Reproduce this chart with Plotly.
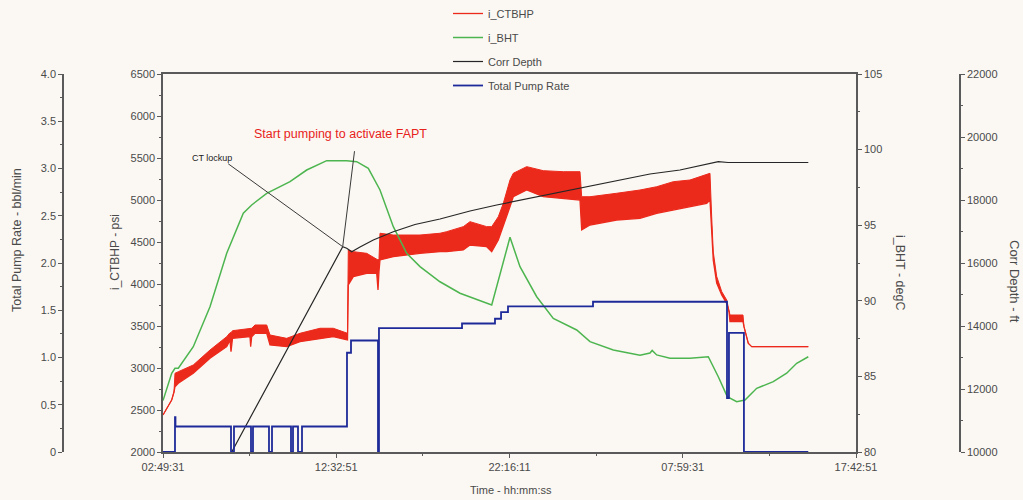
import pandas as pd
import plotly.graph_objects as go

# ---------------------------------------------------------------------------
# Time base: all series are stored as elapsed hours from the job start
# ---------------------------------------------------------------------------
T0 = pd.Timestamp("2000-01-01 02:49:31")
TICK_STEP_S = 35000  # 9:43:20 between labelled time ticks
time_tick_labels = ["02:49:31", "12:32:51", "22:16:11", "07:59:31", "17:42:51"]

# i_CTBHP (psi) - upper / lower envelope of the fast-oscillating pressure trace
ctbhp_h = [0.000, 0.488, 0.617, 0.673, 0.859, 1.700, 2.637, 3.575, 3.760, 3.816,
           3.900, 4.882, 4.920, 4.977, 5.163, 5.819, 6.004, 6.942, 7.688, 8.810,
           9.556, 10.354, 10.399, 10.680, 11.432, 11.993, 12.065, 12.121, 12.177, 12.924,
           14.422, 15.544, 15.920, 16.852, 17.228, 18.165, 18.446, 18.816, 19.097, 19.472,
           19.657, 20.409, 21.341, 22.463, 23.400, 23.495, 23.962, 25.458, 26.767, 27.703,
           28.635, 29.572, 30.510, 30.695, 30.790, 30.880, 31.071, 31.352, 31.632, 31.761,
           31.817, 32.547, 32.603, 32.845, 33.035, 36.212]
ctbhp_hi = [2440, 2619, 2714, 2937, 2956, 3036, 3214, 3373, 3420, 3420,
            3444, 3473, 3473, 3473, 3512, 3512, 3393, 3353, 3413, 3473,
            3473, 3413, 4405, 4385, 4365, 4286, 4286, 4300, 4604, 4583,
            4583, 4604, 4623, 4683, 4742, 4683, 4683, 4801, 4960, 5238,
            5318, 5397, 5349, 5337, 5337, 5039, 5039, 5080, 5119, 5158,
            5218, 5238, 5298, 5318, 4800, 4380, 4090, 3910, 3810, 3700,
            3631, 3631, 3492, 3294, 3254, 3254]
ctbhp_lo = [2440, 2619, 2714, 2777, 2818, 2937, 3115, 3254, 3330, 3194,
            3353, 3373, 3254, 3373, 3413, 3413, 3274, 3254, 3313, 3353,
            3373, 3333, 3988, 4087, 4127, 4127, 3929, 4150, 4286, 4325,
            4365, 4385, 4385, 4405, 4464, 4444, 4385, 4524, 4683, 4920,
            5039, 5119, 5039, 5020, 5000, 4643, 4702, 4762, 4782, 4841,
            4881, 4920, 4960, 5000, 4650, 4280, 4010, 3870, 3770, 3670,
            3551, 3551, 3492, 3294, 3254, 3254]

# i_BHT (degC)
bht_h = [0.000, 0.488, 0.673, 0.859, 1.700, 2.637, 3.575, 4.506, 4.977, 5.819,
         7.127, 8.064, 9.186, 10.309, 10.870, 11.521, 12.177, 12.924, 13.676, 14.422,
         15.544, 16.666, 18.446, 19.472, 20.033, 20.971, 21.902, 23.215, 23.962, 25.269,
         26.767, 27.327, 27.450, 27.703, 28.450, 29.572, 30.600, 31.161, 31.666, 32.193,
         32.660, 33.316, 34.248, 34.999, 35.561, 36.212]
bht_c = [83.4, 85.2, 85.54, 85.54, 86.96, 89.61, 93.14, 95.79, 96.34, 97.11,
         97.88, 98.65, 99.27, 99.27, 99.20, 98.76, 97.33, 94.90, 93.14, 92.26,
         91.26, 90.50, 89.72, 94.20, 92.26, 90.27, 88.84, 88.07, 87.30, 86.75,
         86.40, 86.55, 86.72, 86.42, 86.20, 86.20, 86.30, 84.98, 83.66, 83.33,
         83.44, 84.21, 84.65, 85.21, 85.87, 86.30]

# Corr Depth (ft)
depth_h = [3.855, 5.556, 7.312, 8.810, 10.084, 10.309, 10.590, 11.055, 11.801, 12.924,
           14.141, 15.544, 17.228, 18.726, 20.595, 23.400, 25.362, 27.327, 29.011, 31.161,
           31.710, 36.212]
depth_ft = [10000, 11778, 13619, 15190, 16518, 16467, 16359, 16508, 16730, 16994,
            17222, 17397, 17651, 17841, 18054, 18371, 18603, 18825, 18952, 19216,
            19190, 19190]
LOCKUP_IDX = 4  # coiled tubing lock-up point on the depth curve

# Total Pump Rate (bbl/min), stepwise
pump_h = [0.000, 0.673, 0.700, 3.816, 3.984, 4.938, 5.050, 5.948, 6.117, 7.183,
          7.295, 7.576, 7.800, 10.325, 10.550, 12.065, 12.120, 16.780, 18.630, 18.970,
          19.360, 24.130, 31.650, 31.760, 32.600, 36.210]
pump_bpm = [0.00, 0.37, 0.27, 0.00, 0.27, 0.00, 0.27, 0.00, 0.27, 0.00,
            0.27, 0.00, 0.27, 1.05, 1.18, 0.00, 1.31, 1.36, 1.41, 1.48,
            1.54, 1.59, 0.57, 1.26, 0.00, 0.00]

# Axis scales
ctbhp_range = [2000, 6500]
bht_range = [80, 105]
depth_range = [10000, 22000]
pump_range = [0, 4]
pump_tick_vals = [0, 0.5, 1.0, 1.5, 2.0, 2.5, 3.0, 3.5, 4.0]
pump_tick_text = ["0", "0.5", "1.0", "1.5", "2.0", "2.5", "3.0", "3.5", "4.0"]

# ---------------------------------------------------------------------------
W, H = 1023, 500
BG = "#FBF8F3"
AX = "#5a5a5a"
TXT = "#4a4a4a"
FONT = "Liberation Sans, Arial, sans-serif"

RED = "#EC2A1C"
GREEN = "#4DB54F"
BLACK = "#262626"
BLUE = "#1E2A99"


def to_time(hours):
    return T0 + pd.to_timedelta(pd.Series(hours, dtype=float), unit="h")


x_major = [T0 + pd.Timedelta(seconds=TICK_STEP_S * k) for k in range(len(time_tick_labels))]
x_minor = [T0 + pd.Timedelta(seconds=TICK_STEP_S * (k + 0.5)) for k in range(len(time_tick_labels) - 1)]

fig = go.Figure()

# pressure band (lower edge carries the legend entry, upper edge fills down to it)
fig.add_trace(go.Scatter(
    x=to_time(ctbhp_h), y=ctbhp_lo, name="i_CTBHP", mode="lines",
    line=dict(color=RED, width=1.3), legendgroup="a", yaxis="y"))
fig.add_trace(go.Scatter(
    x=to_time(ctbhp_h), y=ctbhp_hi, name="i_CTBHP", mode="lines",
    line=dict(color=RED, width=1), fill="tonexty", fillcolor=RED,
    legendgroup="a", showlegend=False, yaxis="y"))

fig.add_trace(go.Scatter(
    x=to_time(bht_h), y=bht_c, name="i_BHT", mode="lines",
    line=dict(color=GREEN, width=1.5), legendgroup="b", yaxis="y2"))

fig.add_trace(go.Scatter(
    x=to_time(depth_h), y=depth_ft, name="Corr Depth", mode="lines",
    line=dict(color=BLACK, width=1.2), legendgroup="c", yaxis="y3"))

fig.add_trace(go.Scatter(
    x=to_time(pump_h), y=pump_bpm, name="Total Pump Rate", mode="lines",
    line=dict(color=BLUE, width=1.8, shape="hv"), legendgroup="d", yaxis="y4"))

x0, x1 = 163 / W, 856 / W
y0, y1 = (H - 452) / H, (H - 74) / H

axis_common = dict(
    showgrid=False, zeroline=False, showline=True, linecolor=AX, linewidth=1.5,
    ticks="outside", ticklen=4, tickwidth=1, tickcolor=AX, automargin=False,
    tickfont=dict(family=FONT, size=11, color=TXT),
)

fig.update_layout(
    width=W, height=H,
    margin=dict(l=0, r=0, t=0, b=0, pad=0, autoexpand=False),
    paper_bgcolor=BG, plot_bgcolor=BG,
    font=dict(family=FONT, size=11, color=TXT),
    showlegend=True,
    legend=dict(
        x=448 / W, y=1.002, xanchor="left", yanchor="top",
        bgcolor="rgba(0,0,0,0)", font=dict(family=FONT, size=11, color=TXT),
        traceorder="grouped", tracegroupgap=5, itemwidth=30,
    ),
    xaxis=dict(
        domain=[x0, x1], type="date",
        range=[x_major[0], x_major[-1]],
        tickmode="array", tickvals=x_major, ticktext=time_tick_labels,
        mirror=True,
        minor=dict(tickvals=x_minor, ticks="outside", ticklen=2, tickcolor=AX),
        **axis_common,
    ),
    yaxis=dict(
        domain=[y0, y1], range=ctbhp_range, dtick=500, tickformat="d",
        minor=dict(dtick=250, ticks="outside", ticklen=2, tickcolor=AX),
        **axis_common,
    ),
    yaxis2=dict(
        overlaying="y", side="right", anchor="x", range=bht_range, dtick=5,
        minor=dict(dtick=2.5, ticks="outside", ticklen=2, tickcolor=AX),
        **axis_common,
    ),
    yaxis3=dict(
        overlaying="y", side="right", anchor="free", position=960 / W,
        range=depth_range, dtick=2000, tickformat="d",
        minor=dict(dtick=1000, ticks="outside", ticklen=2, tickcolor=AX),
        **axis_common,
    ),
    yaxis4=dict(
        overlaying="y", side="left", anchor="free", position=63 / W,
        range=pump_range, tickmode="array", tickvals=pump_tick_vals, ticktext=pump_tick_text,
        minor=dict(dtick=0.25, ticks="outside", ticklen=2, tickcolor=AX),
        **axis_common,
    ),
)

# axis titles
titles = [
    ("Total Pump Rate - bbl/min", 17, 240, -90, 12.5),
    ("i_CTBHP - psi", 115, 252, -90, 12),
    ("i_BHT - degC", 900, 273, 90, 12.5),
    ("Corr Depth - ft", 1015, 281, 90, 13),
    ("Time - hh:mm:ss", 511, 490, 0, 11),
]
for text, px, py, ang, size in titles:
    fig.add_annotation(
        text=text, x=px / W, y=(H - py) / H, xref="paper", yref="paper",
        showarrow=False, textangle=ang, xanchor="center", yanchor="middle",
        font=dict(family=FONT, size=size, color=TXT),
    )

# event callouts
lock_x = T0 + pd.Timedelta(hours=depth_h[LOCKUP_IDX])
lock_y = depth_ft[LOCKUP_IDX]
fig.add_annotation(
    text="Start pumping to activate FAPT", x=340 / W, y=(H - 134) / H,
    xref="paper", yref="paper", showarrow=False, xanchor="center", yanchor="middle",
    font=dict(family=FONT, size=12.5, color="#E8231B"),
)
fig.add_annotation(
    text="CT lockup", x=212 / W, y=(H - 158) / H,
    xref="paper", yref="paper", showarrow=False, xanchor="center", yanchor="middle",
    font=dict(family=FONT, size=9, color="#222222"),
)
for ax, ay in [(-116, -84), (12, -97)]:
    fig.add_annotation(
        text="", x=lock_x, y=lock_y, xref="x", yref="y3",
        showarrow=True, arrowhead=0, arrowwidth=1, arrowcolor="#3a3a3a",
        ax=ax, ay=ay, standoff=0, startstandoff=0,
    )

fig.write_html("out.html")
